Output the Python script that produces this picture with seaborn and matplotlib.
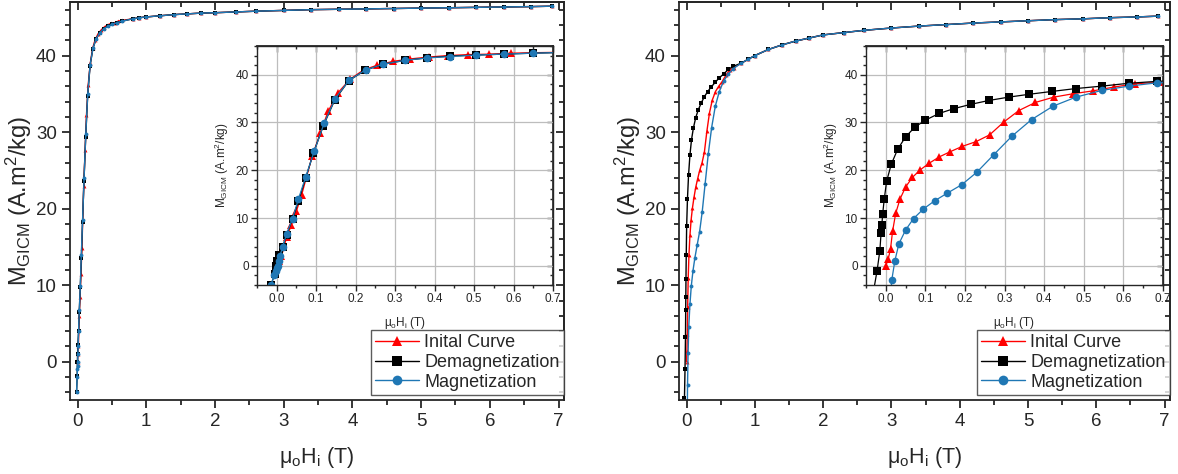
import numpy as np
import pandas as pd
import matplotlib
matplotlib.use("Agg")
import matplotlib.pyplot as plt
import seaborn as sns
from matplotlib.ticker import AutoMinorLocator, MultipleLocator
from matplotlib.lines import Line2D

# ---------------- data ----------------
# Left sample: low-field points (T, A.m2/kg)
L_init_H = [0.0, 0.005, 0.012, 0.025, 0.037, 0.05, 0.063, 0.09, 0.11, 0.13, 0.155, 0.185,
            0.22, 0.255, 0.295, 0.338, 0.385, 0.433, 0.485, 0.538, 0.593, 0.65]
L_init_M = [0.0, 1.0, 2.0, 6.0, 8.5, 11.5, 14.8, 23.0, 27.7, 32.3, 36.2, 39.0,
            41.0, 42.0, 42.8, 43.3, 43.7, 44.0, 44.2, 44.3, 44.5, 44.6]
L_dem_H = [-0.015, -0.005, -0.002, 0.0, 0.005, 0.015, 0.025, 0.04, 0.055, 0.073, 0.093,
           0.118, 0.147, 0.182, 0.223, 0.27, 0.325, 0.38, 0.44, 0.505, 0.575, 0.65]
L_dem_M = [-4.0, -1.8, 0.0, 1.0, 2.2, 4.0, 6.5, 9.8, 13.5, 18.3, 23.6,
           29.3, 34.7, 38.7, 40.9, 42.2, 43.0, 43.5, 43.9, 44.1, 44.3, 44.5]
L_mag_H = [-0.015, -0.006, -0.002, 0.0, 0.002, 0.005, 0.008, 0.015, 0.025, 0.04, 0.055,
           0.073, 0.095, 0.12, 0.148, 0.183, 0.225, 0.27, 0.325, 0.38, 0.44, 0.505, 0.575, 0.65]
L_mag_M = [-4.0, -2.0, -1.0, -0.5, 0.0, 1.0, 2.0, 4.0, 6.7, 9.9, 14.0,
           18.5, 24.0, 29.8, 35.0, 38.8, 41.0, 42.2, 43.0, 43.5, 43.8, 44.1, 44.3, 44.5]
# Left sample: high-field branch shared by the three curves
L_high_H = [0.8, 0.9, 1.0, 1.2, 1.4, 1.6, 1.8, 2.0, 2.3, 2.6, 3.0, 3.4, 3.8, 4.2, 4.6,
            5.0, 5.4, 5.8, 6.2, 6.6, 6.9]
L_high_M = [44.8, 44.95, 45.05, 45.2, 45.35, 45.45, 45.55, 45.6, 45.7, 45.8, 45.9, 46.0,
            46.05, 46.1, 46.15, 46.2, 46.25, 46.3, 46.35, 46.4, 46.45]

# Right sample: low-field points
R_init_H = [0.0, 0.006, 0.012, 0.017, 0.025, 0.036, 0.05, 0.067, 0.087, 0.11, 0.135, 0.163,
            0.193, 0.228, 0.262, 0.298, 0.336, 0.378, 0.424, 0.472, 0.522, 0.575, 0.63, 0.69]
R_init_M = [0.0, 1.4, 3.6, 7.2, 11.0, 14.0, 16.5, 18.5, 20.1, 21.5, 22.8, 23.9,
            25.0, 26.0, 27.4, 30.1, 32.5, 34.2, 35.3, 36.0, 36.6, 37.4, 38.1, 38.4]
R_dem_H = [-0.03, -0.022, -0.015, -0.012, -0.01, -0.008, -0.004, 0.002, 0.014, 0.03, 0.05,
           0.073, 0.1, 0.135, 0.172, 0.215, 0.26, 0.31, 0.362, 0.42, 0.48, 0.545, 0.613, 0.685]
R_dem_M = [-4.8, -1.0, 3.2, 6.8, 8.5, 10.8, 13.9, 17.7, 21.3, 24.4, 27.0,
           29.0, 30.5, 31.9, 32.9, 33.8, 34.6, 35.3, 35.9, 36.5, 37.1, 37.6, 38.2, 38.6]
R_mag_H = [0.012, 0.015, 0.023, 0.033, 0.05, 0.07, 0.095, 0.123, 0.155, 0.192, 0.23, 0.272,
           0.318, 0.368, 0.422, 0.48, 0.545, 0.613, 0.685]
R_mag_M = [-6.0, -3.0, 1.1, 4.6, 7.5, 9.9, 11.9, 13.6, 15.2, 17.0, 19.6, 23.2,
           27.1, 30.6, 33.4, 35.3, 36.7, 37.6, 38.3]
R_high_H = [0.8, 0.9, 1.0, 1.2, 1.4, 1.6, 1.8, 2.0, 2.3, 2.6, 3.0, 3.4, 3.8, 4.2, 4.6,
            5.0, 5.4, 5.8, 6.2, 6.6, 6.9]
R_high_M = [39.0, 39.5, 40.0, 40.8, 41.4, 41.9, 42.3, 42.7, 43.0, 43.3, 43.6, 43.85,
            44.05, 44.25, 44.4, 44.55, 44.7, 44.8, 44.95, 45.05, 45.15]

labels = ["Inital Curve", "Demagnetization", "Magnetization"]
colors = ["#ff0000", "#000000", "#1f77b4"]
markers = ["^", "s", "o"]

# ---------------- style ----------------
sns.set_style("ticks")
plt.rcParams["font.family"] = ["Liberation Sans", "DejaVu Sans"]
plt.rcParams["mathtext.fontset"] = "custom"
plt.rcParams["mathtext.rm"] = "Liberation Sans"
plt.rcParams["mathtext.it"] = "Liberation Sans:italic"
plt.rcParams["axes.linewidth"] = 1.3

W, H = 1178, 474
fig = plt.figure(figsize=(W / 100, H / 100), dpi=100)


def fax(l, t, r, b):
    return fig.add_axes([l / W, (H - b) / H, (r - l) / W, (b - t) / H])


ylab = r"M$_{\mathrm{GICM}}$ (A.m$^2$/kg)"
xlab = r"μ$_{\mathrm{o}}$H$_{\mathrm{i}}$ (T)"


def series(low_h, low_m, hi_h, hi_m):
    return np.array(low_h + hi_h), np.array(low_m + hi_m)


def draw_panel(box_main, box_inset, data, hi):
    ax = fax(*box_main)
    ins = fax(*box_inset)
    for (hh, mm), c, mk in zip(data, colors, markers):
        x, y = series(hh, mm, hi[0], hi[1])
        df = pd.DataFrame({"H": x, "M": y})
        sns.lineplot(data=df, x="H", y="M", ax=ax, sort=False, estimator=None,
                     color=c, marker=mk, markersize=2.8, markeredgewidth=0, lw=1.0)
        sns.lineplot(data=df, x="H", y="M", ax=ins, sort=False, estimator=None,
                     color=c, marker=mk, markersize=5.5, markeredgewidth=0, lw=0.9)
    # main axes
    ax.set_xlim(-0.11, 7.08)
    ax.set_ylim(-5, 47)
    ax.xaxis.set_major_locator(MultipleLocator(1))
    ax.xaxis.set_minor_locator(AutoMinorLocator(2))
    ax.yaxis.set_major_locator(MultipleLocator(10))
    ax.yaxis.set_minor_locator(AutoMinorLocator(5))
    ax.tick_params(which="both", direction="out", top=False, right=False, width=1.3)
    ax.tick_params(which="major", length=6, labelsize=13.5)
    ax.tick_params(which="minor", length=3.5)
    sec_x = ax.secondary_xaxis("top")
    sec_x.set_xticks(np.arange(0, 8, 1))
    sec_x.xaxis.set_minor_locator(AutoMinorLocator(2))
    sec_x.tick_params(which="both", direction="in", labeltop=False, width=1.3)
    sec_x.tick_params(which="major", length=6)
    sec_x.tick_params(which="minor", length=3.5)
    sec_y = ax.secondary_yaxis("right")
    sec_y.set_yticks(np.arange(0, 50, 10))
    sec_y.yaxis.set_minor_locator(AutoMinorLocator(5))
    sec_y.tick_params(which="both", direction="in", labelright=False, width=1.3)
    sec_y.tick_params(which="major", length=6)
    sec_y.tick_params(which="minor", length=3.5)
    ax.set_xlabel(xlab, fontsize=15.5, labelpad=11)
    ax.set_ylabel(ylab, fontsize=17)
    ax.yaxis.set_label_coords(-0.073, 0.5)

    # inset axes
    ins.set_xlim(-0.05, 0.7)
    ins.set_ylim(-4, 46)
    ins.xaxis.set_major_locator(MultipleLocator(0.1))
    ins.xaxis.set_minor_locator(AutoMinorLocator(2))
    ins.yaxis.set_major_locator(MultipleLocator(10))
    ins.yaxis.set_minor_locator(AutoMinorLocator(5))
    ins.xaxis.set_major_formatter(matplotlib.ticker.FormatStrFormatter("%.1f"))
    ins.grid(True, which="major", color="#bdbdbd", lw=0.9)
    ins.set_axisbelow(True)
    ins.tick_params(which="both", direction="out", width=1.0, top=False, right=False)
    ins.tick_params(which="major", length=4, labelsize=8.5, pad=2)
    ins.tick_params(which="minor", length=2.5)
    s2x = ins.secondary_xaxis("top")
    s2x.set_xticks(np.arange(0, 0.71, 0.1))
    s2x.xaxis.set_minor_locator(AutoMinorLocator(2))
    s2x.tick_params(which="both", direction="in", labeltop=False, width=1.0)
    s2x.tick_params(which="major", length=4)
    s2x.tick_params(which="minor", length=2.5)
    s2y = ins.secondary_yaxis("right")
    s2y.set_yticks(np.arange(0, 41, 10))
    s2y.yaxis.set_minor_locator(AutoMinorLocator(5))
    s2y.tick_params(which="both", direction="in", labelright=False, width=1.0)
    s2y.tick_params(which="major", length=4)
    s2y.tick_params(which="minor", length=2.5)
    for sp in ins.spines.values():
        sp.set_linewidth(1.0)
    ins.set_xlabel(xlab, fontsize=8.5, labelpad=7)
    ins.set_ylabel(ylab, fontsize=8.5, labelpad=3)

    handles = [Line2D([], [], color=c, marker=mk, markersize=7, lw=1.0, markeredgewidth=0)
               for c, mk in zip(colors, markers)]
    leg = ax.legend(handles, labels, loc="lower right", bbox_to_anchor=(1.0, 0.012),
                    borderaxespad=0, fontsize=13, frameon=True, fancybox=False,
                    edgecolor="#333333", handlelength=2.4, handletextpad=0.3,
                    labelspacing=0.15, borderpad=0.25)
    leg.get_frame().set_linewidth(1.0)
    leg.set_zorder(10)
    return ax, ins


draw_panel((70, 2, 564, 400), (257, 46, 553, 285),
           [(L_init_H, L_init_M), (L_dem_H, L_dem_M), (L_mag_H, L_mag_M)],
           (L_high_H, L_high_M))
draw_panel((679, 2, 1170, 400), (866, 46, 1163, 285),
           [(R_init_H, R_init_M), (R_dem_H, R_dem_M), (R_mag_H, R_mag_M)],
           (R_high_H, R_high_M))

fig.savefig("out.png", dpi=100)
